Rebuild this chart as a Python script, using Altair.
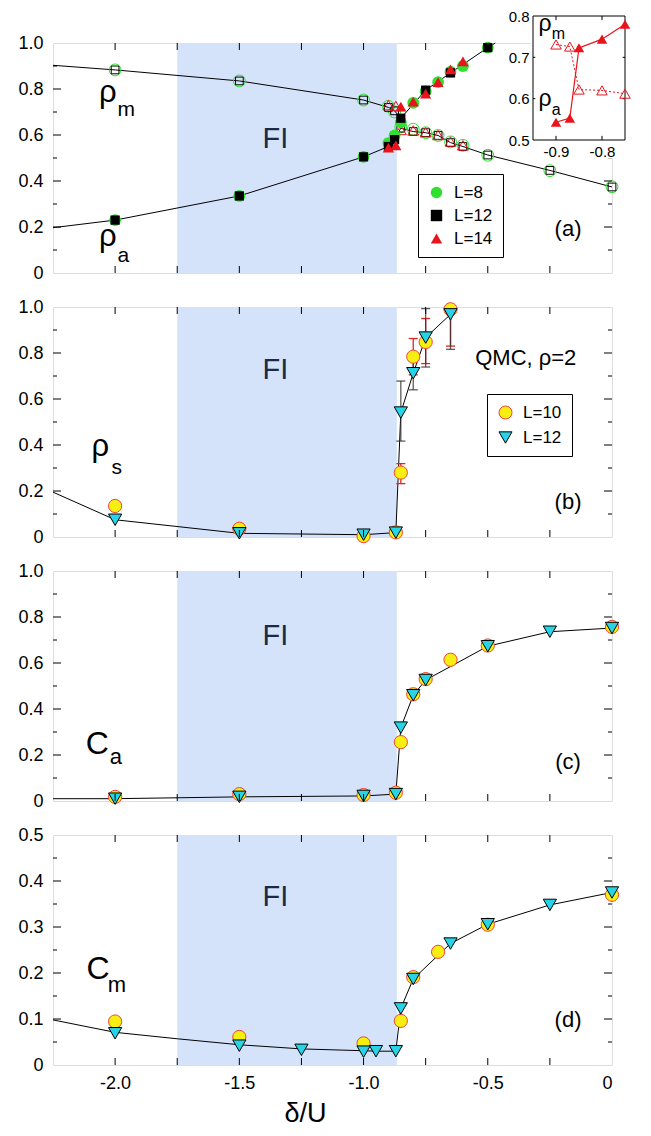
import altair as alt
import pandas as pd

FONT = "Liberation Sans"
W, H = 559, 230
GREEN = "#2fe02f"
RED = "#e8131b"
YELLOW = "#f7ef12"
YSTROKE = "#f0443a"
CYAN = "#27d3e6"
FI_FILL = "#d5e3fa"
FI_TEXT = "#1a2946"

# ---------------- data ----------------
x_domain = [-2.25, 0.0]
fi_region = [-1.75, -0.866]
x_tick_vals = [-2.0, -1.75, -1.5, -1.25, -1.0, -0.75, -0.5, -0.25]
x_label_vals = [-2.0, -1.5, -1.0, -0.5, 0.0]

# panel (a): densities rho_a (filled) and rho_m (open)
a_l8_xa = [-2.0, -1.5, -1.0, -0.9, -0.875, -0.85, -0.8, -0.75, -0.7, -0.65, -0.6, -0.5]
a_l8_rho_a = [0.23, 0.335, 0.505, 0.565, 0.598, 0.655, 0.74, 0.79, 0.83, 0.875, 0.90, 0.98]
a_l8_xm = [-2.0, -1.5, -1.0, -0.9, -0.875, -0.85, -0.8, -0.75, -0.7, -0.65, -0.6, -0.5, -0.25, 0.0]
a_l8_rho_m = [0.883, 0.835, 0.752, 0.725, 0.70, 0.635, 0.625, 0.61, 0.598, 0.57, 0.555, 0.512, 0.445, 0.375]
a_l12_xa = [-2.0, -1.5, -1.0, -0.9, -0.875, -0.85, -0.75, -0.65, -0.5]
a_l12_rho_a = [0.23, 0.335, 0.505, 0.55, 0.58, 0.673, 0.795, 0.87, 0.98]
a_l12_xm = [-2.0, -1.5, -1.0, -0.9, -0.875, -0.85, -0.8, -0.75, -0.7, -0.65, -0.6, -0.5, -0.25, 0.0]
a_l12_rho_m = [0.883, 0.835, 0.752, 0.72, 0.705, 0.63, 0.615, 0.61, 0.598, 0.567, 0.55, 0.513, 0.446, 0.374]
a_l14_x = [-0.9, -0.87, -0.85, -0.8, -0.75, -0.7, -0.65, -0.6]
a_l14_rho_a = [0.545, 0.555, 0.723, 0.745, 0.78, 0.83, 0.885, 0.92]
a_l14_rho_m = [0.73, 0.726, 0.622, 0.62, 0.612, 0.60, 0.572, 0.555]
a_upper_x = [-2.25, -2.0, -1.5, -1.0, -0.9, -0.875, -0.85, -0.75, -0.65, -0.5, -0.47]
a_upper_y = [0.903, 0.883, 0.835, 0.752, 0.72, 0.705, 0.673, 0.795, 0.87, 0.98, 1.0]
a_lower_x = [-2.25, -2.0, -1.5, -1.0, -0.9, -0.875, -0.85, -0.8, -0.75, -0.7, -0.65, -0.6, -0.5, -0.25, 0.0]
a_lower_y = [0.197, 0.23, 0.335, 0.505, 0.55, 0.58, 0.63, 0.615, 0.61, 0.598, 0.567, 0.55, 0.513, 0.446, 0.374]

# inset of (a), L=14
inset_x = [-0.9, -0.87, -0.85, -0.8, -0.75]
inset_rho_a = [0.543, 0.553, 0.723, 0.744, 0.78]
inset_rho_m = [0.731, 0.726, 0.622, 0.62, 0.612]

# panel (b): rho_s (QMC)
b_x10 = [-2.0, -1.5, -1.0, -0.87, -0.85, -0.8, -0.75, -0.65]
b_l10 = [0.135, 0.036, 0.004, 0.02, 0.28, 0.784, 0.848, 0.99]
b_x12 = [-2.0, -1.5, -1.0, -0.87, -0.85, -0.8, -0.75, -0.65]
b_l12 = [0.075, 0.016, 0.01, 0.019, 0.541, 0.712, 0.867, 0.968]
b_err10_x = [-0.85, -0.8, -0.75, -0.65]
b_err10_lo = [0.232, 0.705, 0.754, 0.83]
b_err10_hi = [0.319, 0.863, 0.95, 1.0]
b_err12_x = [-0.85, -0.8, -0.75, -0.65]
b_err12_lo = [0.417, 0.64, 0.739, 0.816]
b_err12_hi = [0.678, 0.78, 0.993, 1.0]
b_line_x = [-2.25, -2.0, -1.5, -1.0, -0.87, -0.85, -0.8, -0.75, -0.65]
b_line_y = [0.195, 0.075, 0.016, 0.01, 0.019, 0.541, 0.712, 0.867, 0.968]

# panel (c): C_a
c_x10 = [-2.0, -1.5, -1.0, -0.87, -0.85, -0.8, -0.75, -0.65, -0.5, 0.0]
c_l10 = [0.018, 0.03, 0.026, 0.036, 0.256, 0.464, 0.53, 0.614, 0.676, 0.757]
c_x12 = [-2.0, -1.5, -1.0, -0.87, -0.85, -0.8, -0.75, -0.5, -0.25, 0.0]
c_l12 = [0.01, 0.018, 0.022, 0.03, 0.319, 0.46, 0.526, 0.673, 0.736, 0.752]
c_line_x = [-2.25, -2.0, -1.5, -1.0, -0.87, -0.85, -0.8, -0.75, -0.5, -0.25, 0.0]
c_line_y = [0.01, 0.01, 0.018, 0.022, 0.03, 0.319, 0.46, 0.526, 0.673, 0.736, 0.752]

# panel (d): C_m
d_x10 = [-2.0, -1.5, -1.0, -0.85, -0.8, -0.7, -0.5, 0.0]
d_l10 = [0.0945, 0.061, 0.047, 0.096, 0.191, 0.246, 0.305, 0.37]
d_x12 = [-2.0, -1.5, -1.25, -1.0, -0.95, -0.87, -0.85, -0.8, -0.65, -0.5, -0.25, 0.0]
d_l12 = [0.069, 0.042, 0.033, 0.029, 0.03, 0.03, 0.123, 0.187, 0.264, 0.306, 0.348, 0.375]
d_line_x = [-2.25, -2.0, -1.75, -1.5, -1.25, -1.0, -0.95, -0.87, -0.85, -0.8, -0.65, -0.5, -0.25, 0.0]
d_line_y = [0.098, 0.071, 0.057, 0.044, 0.035, 0.031, 0.03, 0.03, 0.123, 0.187, 0.264, 0.306, 0.348, 0.375]

XEXPR = "datum.value == 0 ? '0' : (datum.value < 0 ? '-' : '') + format(abs(datum.value), '.1f')"
YEXPR = "datum.value == 0 ? '0' : format(datum.value, '.1f')"


def df_xy(xs, ys):
    return pd.DataFrame({"x": xs, "y": ys})


def make_enc(ytop, ylabels, show_x):
    xs = alt.Scale(domain=x_domain, nice=False, zero=False)
    ys = alt.Scale(domain=[0, ytop], nice=False, zero=False)
    if show_x:
        xa = alt.Axis(values=x_label_vals, labelExpr=XEXPR, ticks=False, domain=False,
                      grid=False, labelFontSize=18, labelPadding=9, title="δ/U",
                      titleFontSize=27, titleFontWeight="normal", titleX=252, titleY=56,
                      titleBaseline="alphabetic", titleAlign="center", labelColor="black",
                      titleColor="black")
    else:
        xa = None
    ya = alt.Axis(values=ylabels, labelExpr=YEXPR, ticks=False, domain=False, grid=False,
                  labelFontSize=18, labelPadding=10, title=None, labelColor="black")

    def X(f):
        return alt.X(f, type="quantitative", scale=xs, axis=xa)

    def Y(f):
        return alt.Y(f, type="quantitative", scale=ys, axis=ya)
    return X, Y


def frame_ticks(X, Y, ymaj, ymin):
    out = []
    dx = pd.DataFrame({"v": x_tick_vals})
    bx = alt.Chart(dx).mark_rule(color="black", strokeWidth=1)
    out.append(bx.encode(x=X("v"), y=alt.value(H), y2=alt.value(H - 7)))
    out.append(bx.encode(x=X("v"), y=alt.value(0), y2=alt.value(7)))
    for vals, ln in ((ymaj, 8), (ymin, 4)):
        by = alt.Chart(pd.DataFrame({"v": vals})).mark_rule(color="black", strokeWidth=1)
        out.append(by.encode(y=Y("v"), x=alt.value(0), x2=alt.value(ln)))
        out.append(by.encode(y=Y("v"), x=alt.value(W), x2=alt.value(W - ln)))
    return out


def fi_layer(X):
    d = pd.DataFrame({"x1": [fi_region[0]], "x2": [fi_region[1]]})
    return alt.Chart(d).mark_rect(color=FI_FILL).encode(
        x=X("x1"), x2=alt.X2("x2"), y=alt.value(0), y2=alt.value(H))


def ann(X, Y, text, x, y, size, color="black", align="left"):
    d = pd.DataFrame({"x": [x], "y": [y]})
    return alt.Chart(d).mark_text(text=text, fontSize=size, font=FONT, color=color,
                                  align=align, baseline="alphabetic").encode(x=X("x"), y=Y("y"))


def line(X, Y, xs, ys, color="black", dash=None):
    kw = dict(color=color, strokeWidth=1)
    if dash:
        kw["strokeDash"] = dash
    return alt.Chart(df_xy(xs, ys)).mark_line(**kw).encode(x=X("x"), y=Y("y"))


# ---------------- panel (a) ----------------
Xa, Ya = make_enc(1.0, [0, 0.2, 0.4, 0.6, 0.8, 1.0], False)
a_dom = ["L=8", "L=12", "L=14"]
leg_a = alt.Legend(orient="none", legendX=365, legendY=131, title=None, strokeColor="black",
                   fillColor="white", padding=10, labelFontSize=17, labelFont=FONT,
                   labelColor="black", symbolSize=130, symbolStrokeWidth=1, rowPadding=5,
                   labelOffset=9, cornerRadius=0)
a_color = alt.Scale(domain=a_dom, range=[GREEN, "black", RED])
a_shape = alt.Scale(domain=a_dom, range=["circle", "square", "triangle-up"])


def a_filled(xs, ys, label, size):
    d = pd.DataFrame({"x": xs, "y": ys, "L": label})
    return alt.Chart(d).mark_point(filled=True, size=size, opacity=1, strokeWidth=1).encode(
        x=Xa("x"), y=Ya("y"),
        color=alt.Color("L:N", scale=a_color, legend=leg_a),
        shape=alt.Shape("L:N", scale=a_shape, legend=leg_a))


def a_open(xs, ys, shape, size, color):
    return alt.Chart(df_xy(xs, ys)).mark_point(filled=False, shape=shape, size=size, opacity=1,
                                               strokeWidth=1, color=color).encode(
        x=Xa("x"), y=Ya("y"))


main_a = alt.layer(
    fi_layer(Xa),
    line(Xa, Ya, a_upper_x, a_upper_y),
    line(Xa, Ya, a_lower_x, a_lower_y),
    a_open(a_l8_xm, a_l8_rho_m, "circle", 140, GREEN),
    a_open(a_l12_xm, a_l12_rho_m, "square", 60, "black"),
    a_open(a_l14_x, a_l14_rho_m, "triangle-up", 120, RED),
    a_filled(a_l8_xa, a_l8_rho_a, "L=8", 140),
    a_filled(a_l12_xa, a_l12_rho_a, "L=12", 85),
    a_filled(a_l14_x, a_l14_rho_a, "L=14", 125),
    *frame_ticks(Xa, Ya, [0.2, 0.4, 0.6, 0.8], [0.1, 0.3, 0.5, 0.7, 0.9]),
    ann(Xa, Ya, "ρ", -2.065, 0.743, 31),
    ann(Xa, Ya, "m", -1.99, 0.683, 21),
    ann(Xa, Ya, "ρ", -2.065, 0.117, 31),
    ann(Xa, Ya, "a", -1.99, 0.048, 21),
    ann(Xa, Ya, "FI", -1.355, 0.545, 29, color=FI_TEXT, align="center"),
    ann(Xa, Ya, "(a)", -0.177, 0.161, 22, align="center"),
)

# inset
IXS = alt.Scale(domain=[-0.95, -0.75], range=[480, 572], nice=False, zero=False)
IYS = alt.Scale(domain=[0.5, 0.8], range=[97, -27], nice=False, zero=False)
IXA = alt.Axis(values=[-0.9, -0.8], labelExpr="'-' + format(abs(datum.value), '.1f')",
               orient="bottom", offset=-(H - 97), ticks=False, domain=False, grid=False,
               labelFontSize=15, labelPadding=4, title=None, labelColor="black", zindex=2)
IYA = alt.Axis(values=[0.5, 0.6, 0.7, 0.8], format=".1f", orient="left", offset=-480,
               ticks=False, domain=False, grid=False, labelFontSize=15, labelPadding=4,
               title=None, labelColor="black", zindex=2)


def IX(f):
    return alt.X(f, type="quantitative", scale=IXS, axis=IXA)


def IY(f):
    return alt.Y(f, type="quantitative", scale=IYS, axis=IYA)


def box(x1, x2, y1, y2, **kw):
    d = pd.DataFrame({"x1": [x1], "x2": [x2], "y1": [y1], "y2": [y2]})
    return alt.Chart(d).mark_rect(**kw).encode(
        x=IX("x1"), x2=alt.X2("x2"), y=IY("y1"), y2=alt.Y2("y2"))


def irules(xs, x2s, ys, y2s):
    d = pd.DataFrame({"x1": xs, "x2": x2s, "y1": ys, "y2": y2s})
    return alt.Chart(d).mark_rule(color="black", strokeWidth=1).encode(
        x=IX("x1"), x2=alt.X2("x2"), y=IY("y1"), y2=alt.Y2("y2"))


def itext(text, x, y, size):
    return alt.Chart(pd.DataFrame({"x": [x], "y": [y]})).mark_text(
        text=text, fontSize=size, font=FONT, align="left", baseline="alphabetic"
    ).encode(x=IX("x"), y=IY("y"))


inset_a = alt.layer(
    box(-0.955, -0.744, 0.455, 0.805, fill="white", stroke="white", strokeWidth=0),
    box(-0.95, -0.75, 0.5, 0.8, fill="white", fillOpacity=0, stroke="black", strokeWidth=1),
    irules([-0.9, -0.8, -0.9, -0.8, -0.95, -0.95, -0.755, -0.755],
           [-0.9, -0.8, -0.9, -0.8, -0.945, -0.945, -0.75, -0.75],
           [0.5, 0.5, 0.79, 0.79, 0.6, 0.7, 0.6, 0.7],
           [0.51, 0.51, 0.8, 0.8, 0.6, 0.7, 0.6, 0.7]),
    alt.Chart(df_xy(inset_x, inset_rho_m)).mark_line(color=RED, strokeWidth=1, strokeDash=[2, 2]).encode(x=IX("x"), y=IY("y")),
    alt.Chart(df_xy(inset_x, inset_rho_a)).mark_line(color=RED, strokeWidth=1.2).encode(x=IX("x"), y=IY("y")),
    alt.Chart(df_xy(inset_x, inset_rho_m)).mark_point(shape="triangle-up", filled=False, size=110, color=RED, opacity=1, strokeWidth=1).encode(x=IX("x"), y=IY("y")),
    alt.Chart(df_xy(inset_x, inset_rho_a)).mark_point(shape="triangle-up", filled=True, size=110, color=RED, opacity=1).encode(x=IX("x"), y=IY("y")),
    itext("ρ", -0.938, 0.763, 23),
    itext("m", -0.909, 0.745, 16),
    itext("ρ", -0.938, 0.582, 23),
    itext("a", -0.909, 0.561, 16),
)

panel_a = alt.layer(main_a, inset_a).resolve_scale(x="independent", y="independent").properties(width=W, height=H)


# ---------------- panels (b)-(d) ----------------
q_dom = ["L=10", "L=12"]
q_fill = alt.Scale(domain=q_dom, range=[YELLOW, CYAN])
q_stroke = alt.Scale(domain=q_dom, range=[YSTROKE, "black"])
q_shape = alt.Scale(domain=q_dom, range=["circle", "triangle-down"])


def q_points(X, Y, xs, ys, label, legend):
    d = pd.DataFrame({"x": xs, "y": ys, "L": label})
    return alt.Chart(d).mark_point(filled=True, size=175, opacity=1, strokeWidth=1).encode(
        x=X("x"), y=Y("y"),
        fill=alt.Fill("L:N", scale=q_fill, legend=legend),
        stroke=alt.Stroke("L:N", scale=q_stroke, legend=legend),
        shape=alt.Shape("L:N", scale=q_shape, legend=legend))


def errbars(X, Y, xs, lo, hi, color, opacity=1.0):
    d = pd.DataFrame({"x": xs, "lo": lo, "hi": hi})
    base = alt.Chart(d)
    return [
        base.mark_rule(color=color, strokeWidth=1.3, opacity=opacity).encode(x=X("x"), y=Y("lo"), y2=alt.Y2("hi")),
        base.mark_tick(color=color, orient="horizontal", size=9, thickness=1.3, opacity=opacity).encode(x=X("x"), y=Y("lo")),
        base.mark_tick(color=color, orient="horizontal", size=9, thickness=1.3, opacity=opacity).encode(x=X("x"), y=Y("hi")),
    ]


leg_b = alt.Legend(orient="none", legendX=434, legendY=87, title=None, strokeColor="black",
                   fillColor="white", padding=10, labelFontSize=17, labelFont=FONT,
                   labelColor="black", symbolSize=170, symbolStrokeWidth=1, rowPadding=6,
                   labelOffset=9, cornerRadius=0)

Xb, Yb = make_enc(1.0, [0, 0.2, 0.4, 0.6, 0.8, 1.0], False)
panel_b = alt.layer(
    fi_layer(Xb),
    line(Xb, Yb, b_line_x, b_line_y),
    *errbars(Xb, Yb, b_err10_x, b_err10_lo, b_err10_hi, "#e02424"),
    *errbars(Xb, Yb, b_err12_x, b_err12_lo, b_err12_hi, "#333333", 0.8),
    q_points(Xb, Yb, b_x10, b_l10, "L=10", leg_b),
    q_points(Xb, Yb, b_x12, b_l12, "L=12", leg_b),
    *frame_ticks(Xb, Yb, [0.2, 0.4, 0.6, 0.8], [0.1, 0.3, 0.5, 0.7, 0.9]),
    ann(Xb, Yb, "ρ", -2.095, 0.351, 31),
    ann(Xb, Yb, "s", -2.015, 0.273, 21),
    ann(Xb, Yb, "FI", -1.355, 0.686, 29, color=FI_TEXT, align="center"),
    ann(Xb, Yb, "QMC, ρ=2", -0.347, 0.747, 22, align="center"),
    ann(Xb, Yb, "(b)", -0.177, 0.12, 22, align="center"),
).properties(width=W, height=H)

Xc, Yc = make_enc(1.0, [0, 0.2, 0.4, 0.6, 0.8, 1.0], False)
panel_c = alt.layer(
    fi_layer(Xc),
    line(Xc, Yc, c_line_x, c_line_y),
    q_points(Xc, Yc, c_x10, c_l10, "L=10", None),
    q_points(Xc, Yc, c_x12, c_l12, "L=12", None),
    *frame_ticks(Xc, Yc, [0.2, 0.4, 0.6, 0.8], [0.1, 0.3, 0.5, 0.7, 0.9]),
    ann(Xc, Yc, "C", -2.118, 0.206, 32),
    ann(Xc, Yc, "a", -2.022, 0.162, 22),
    ann(Xc, Yc, "FI", -1.355, 0.68, 29, color=FI_TEXT, align="center"),
    ann(Xc, Yc, "(c)", -0.177, 0.14, 22, align="center"),
).properties(width=W, height=H)

Xd, Yd = make_enc(0.5, [0, 0.1, 0.2, 0.3, 0.4, 0.5], True)
panel_d = alt.layer(
    fi_layer(Xd),
    line(Xd, Yd, d_line_x, d_line_y),
    q_points(Xd, Yd, d_x10, d_l10, "L=10", None),
    q_points(Xd, Yd, d_x12, d_l12, "L=12", None),
    *frame_ticks(Xd, Yd, [0.1, 0.2, 0.3, 0.4], [0.05, 0.15, 0.25, 0.35, 0.45]),
    ann(Xd, Yd, "C", -2.115, 0.186, 32),
    ann(Xd, Yd, "m", -2.03, 0.158, 22),
    ann(Xd, Yd, "FI", -1.355, 0.345, 29, color=FI_TEXT, align="center"),
    ann(Xd, Yd, "(d)", -0.177, 0.082, 22, align="center"),
).properties(width=W, height=H)

chart = alt.vconcat(panel_a, panel_b, panel_c, panel_d, spacing=34, bounds="flush").resolve_scale(
    color="independent", shape="independent", fill="independent", stroke="independent"
).properties(
    padding={"left": 9, "top": 0, "right": 0, "bottom": 0}
).configure_view(
    stroke="black", strokeWidth=1
).configure_axis(
    labelFont=FONT, titleFont=FONT
).configure(font=FONT)

chart.save("out.html", embed_options={"renderer": "svg", "actions": False})
